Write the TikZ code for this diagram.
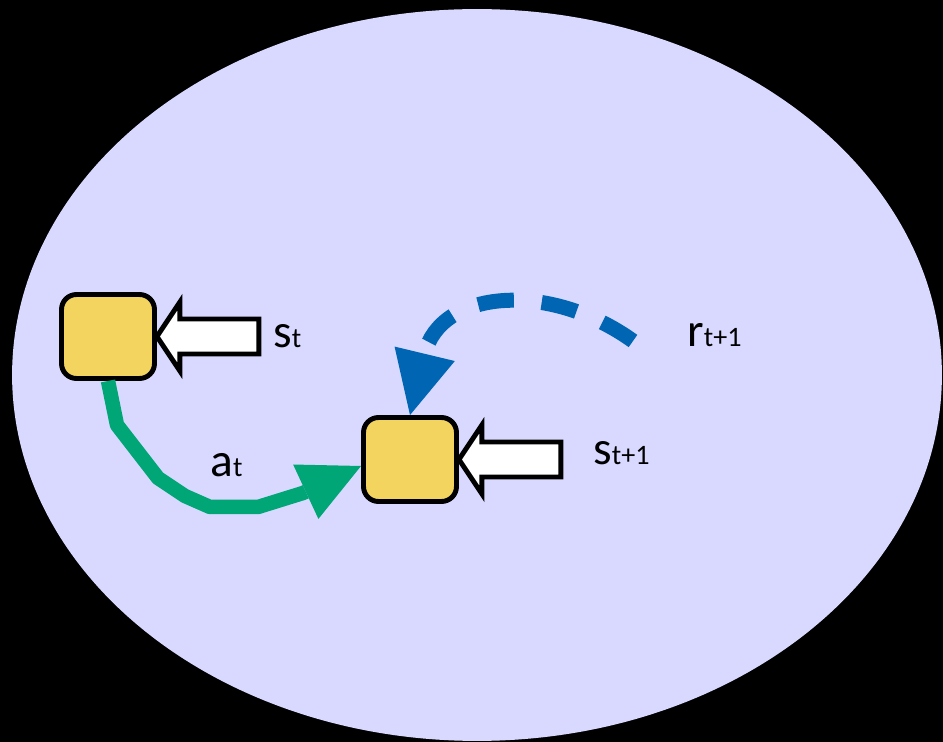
\documentclass[tikz,border=0pt]{standalone}
\usepackage{fontspec}
\setmainfont{Carlito}
\usetikzlibrary{positioning}
\usetikzlibrary{arrows.meta}

\definecolor{envfill}{RGB}{217,217,255}
\definecolor{statefill}{RGB}{243,212,94}
\definecolor{actgreen}{RGB}{0,166,118}
\definecolor{rewblue}{RGB}{0,102,179}

\newcommand{\subidx}[1]{{\fontsize{16}{18}\selectfont #1}}
\newcommand{\feed}[1]{\path[inarrow] (#1.east) -- ++(23,-34.5) -- ++(0,17) -- ++(79,0)
    -- ++(0,35) -- ++(-79,0) -- ++(0,17) -- cycle;}

\begin{document}
\begin{tikzpicture}[x=0.02cm, y=-0.02cm]
    \tikzstyle{statebox} = [rectangle, draw, line width=2.8pt, fill=statefill,
    rounded corners=0.3cm, minimum width=1.86cm, minimum height=1.68cm]
    \tikzstyle{inarrow} = [draw, line width=2.8pt, fill=white, line join=miter]
    \tikzstyle{sym} = [anchor=base west, inner sep=0pt, font=\fontsize{27}{30}\selectfont]
    \tikzstyle{action} = [draw=actgreen, line width=0.29cm, line join=round,
    -{Triangle[length=1.22cm, width=1.2cm, line width=0pt]}]
    \tikzstyle{reward} = [draw=rewblue, line width=0.3cm, dash pattern=on 0.72cm off 0.56cm,
    -{Triangle[length=1.26cm, width=1.24cm, line width=0pt]}]
    \fill[black] (0,0) rectangle (943,742);
    \useasboundingbox (0,0) rectangle (943,742);
    \fill[envfill] (477,375) ellipse [x radius=9.3cm, y radius=7.32cm];
    \node [statebox] (st) at (108,336.5) {};
    \node [statebox] (st1) at (410,459.5) {};
    \feed{st}
    \feed{st1}
    \node [sym] (slbl) at (273,348) {s\subidx{t}};
    \node [sym] (s1lbl) at (593,465) {s\subidx{t+1}};
    \node [sym] (rlbl) at (687,347) {r\subidx{t+1}};
    \node [sym] (albl) at (210,477) {a\subidx{t}};
    \coordinate (rw) at (633,341);
    \path [action] (st.south) -- (117,425) -- (158,478) -- (185,496) -- (210,507)
    -- (258,507) -- (303,493) -- ([yshift=-0.13cm]st1.west);
    \path [reward] (rw) .. controls (548,280) and (440,290) .. (st1.north);
\end{tikzpicture}
\end{document}
